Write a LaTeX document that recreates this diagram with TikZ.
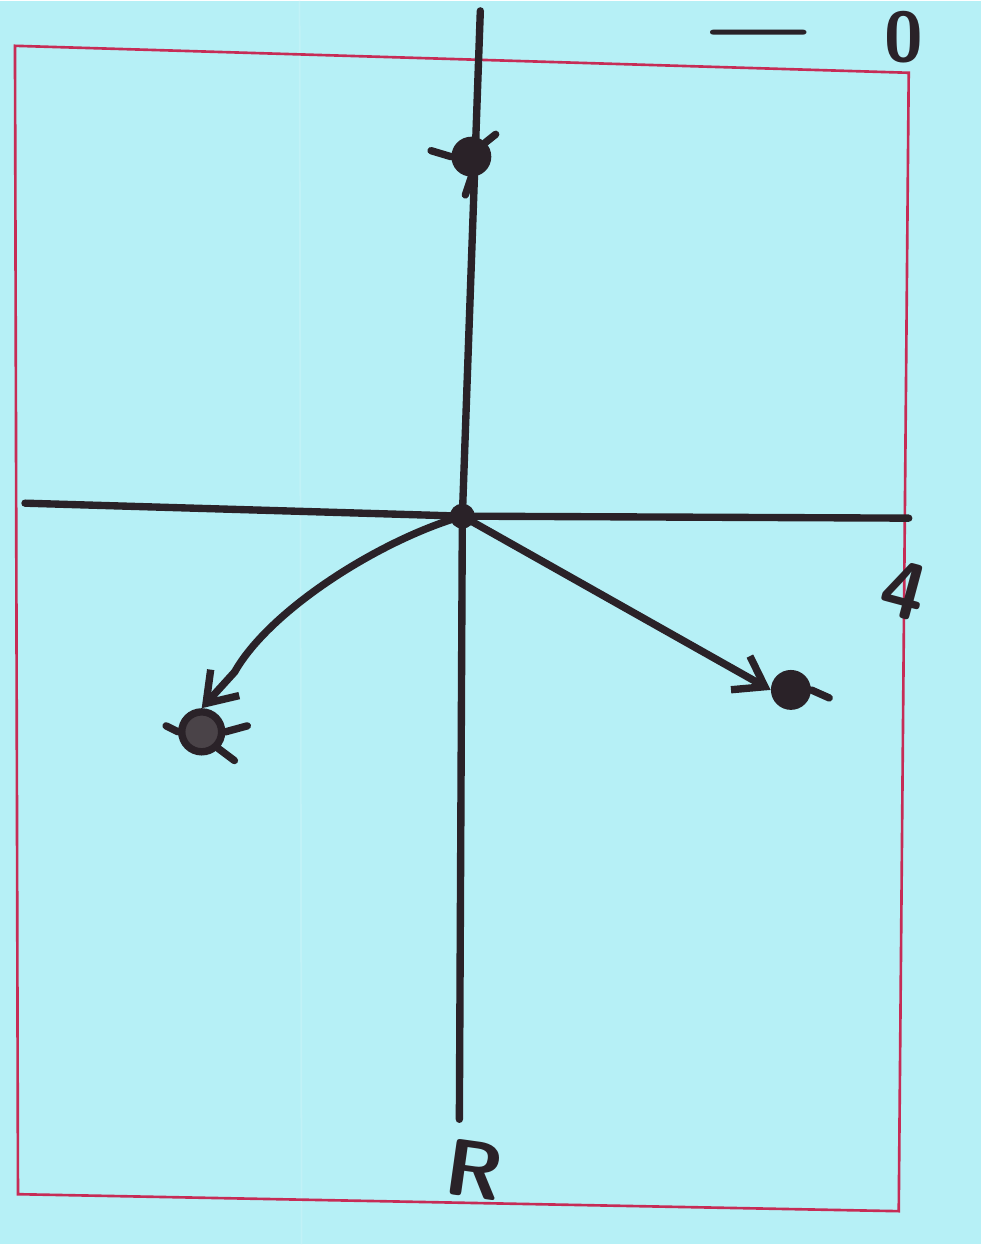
\documentclass[tikz,border=0pt]{standalone}
\usepackage{xcolor}
\usepackage{tikz}
\usetikzlibrary{positioning, arrows.meta, calc}
\definecolor{paper}{RGB}{182,240,246}
\definecolor{ink}{RGB}{42,34,40}
\definecolor{margin}{RGB}{198,44,86}

\begin{document}
\begin{tikzpicture}[x=0.02cm, y=-0.02cm,
  axis/.style={draw=ink, line width=4.2pt, line cap=round},
  pole/.style={circle, fill=ink, inner sep=0pt, minimum size=0.8cm},
  lbl/.style={text=ink, font=\sffamily\bfseries\fontsize{46}{50}\selectfont, inner sep=0pt}]
\fill[paper] (0,0) rectangle (982,1245);
\draw[paper!85!white, line width=1pt] (300,0) -- (302,1245);
\draw[margin, line width=1.5pt] (15,45) -- (910,72) -- (900,1212) -- (18,1195) -- cycle;
% axes
\coordinate (ytop) at (481,10);
\coordinate (ybot) at (460,1120);
\coordinate (xl) at (25,503);
\coordinate (xr) at (910,518);
\node[circle, fill=ink, inner sep=0pt, minimum size=0.5cm] (o) at (463,516) {};
\draw[axis] (ytop) -- (o.center) -- (ybot);
\draw[axis] (xl) -- (o.center) -- (xr);
% poles
\node[pole] (p1) at (472,156) {};
\node[pole, fill=ink!85, draw=ink, line width=4.2pt, minimum size=0.8cm] (p2) at (202,732) {};
\node[pole] (p3) at (792,690) {};
\draw[axis] (p1.west) -- ++(-20,-6);
\draw[axis] (p1.south) -- ++(-6,18);
\draw[axis] (p1.north east) -- ++(10,-8);
\draw[axis] (p2.east) -- ++(22,-6);
\draw[axis] (p2.south east) -- ++(16,12);
\draw[axis] (p2.west) -- ++(-12,-6);
\draw[axis] (p3.east) -- ++(18,8);
% branches
\draw[axis, -{Straight Barb[length=16pt, width=22pt]}]
  (o.center) .. controls (380,540) and (270,610) .. (235,672) -- (p2.north);
\draw[axis, -{Straight Barb[length=16pt, width=22pt]}] (o.center) -- (p3.west);
% labels
\node[lbl, font=\sffamily\bfseries\fontsize{40}{44}\selectfont, xscale=1.25] (dash) at (760,40) {\textemdash};
\node[lbl, font=\sffamily\bfseries\fontsize{40}{44}\selectfont] (zero) at (905,36) {0};
\node[lbl, rotate=-15] (re) at (905,590) {4};
\node[lbl, rotate=-8] (im) at (475,1170) {R};
\end{tikzpicture}
\end{document}
